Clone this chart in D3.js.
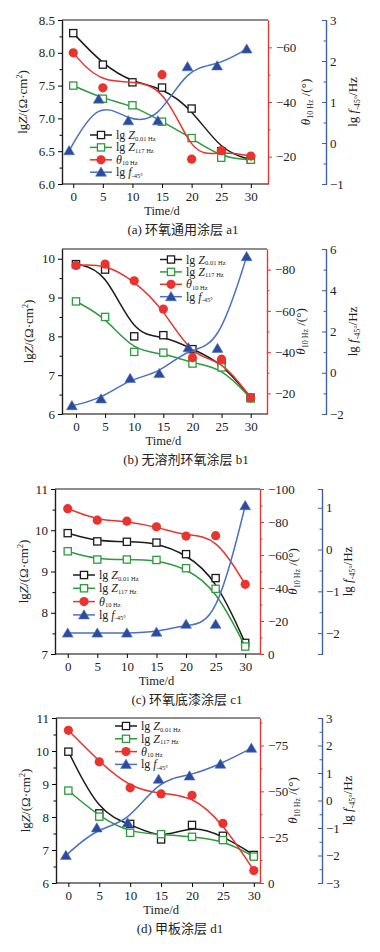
<!DOCTYPE html>
<html>
<head>
<meta charset="utf-8">
<script src="https://cdn.jsdelivr.net/npm/d3@7"></script>
<style>
  body { margin: 0; background: #fff; }
  svg { display: block; }
  text { font-family: "Liberation Serif", "Times New Roman", serif; fill: #222; }
  .cap { font-family: "Liberation Serif", "Noto Sans CJK SC", serif; }
</style>
</head>
<body>
<svg id="chart"></svg>
<script>
const days = [0, 5, 10, 15, 20, 25, 30]
const xTicks = [0, 5, 10, 15, 20, 25, 30]

// (a) 环氧通用涂层 a1
const aZ001 = [8.30, 7.82, 7.55, 7.47, 7.15, 6.50, 6.37]
const aZ117 = [7.50, 7.30, 7.20, 6.95, 6.70, 6.40, 6.37]
const aTheta = [-58, -45.2, null, -50, -19.1, -22.2, -20.2]
const aF = [-0.19, 1.07, 0.54, 0.54, 1.86, 1.88, 2.29]
const aFDays = [-0.7, 4.3, 9.3, 14.3, 19.3, 24.3, 29.3]

// (b) 无溶剂环氧涂层 b1
const bZ001 = [9.86, 9.72, 8.00, 8.03, 7.67, 7.33, 6.42]
const bZ117 = [8.90, 8.50, 7.60, 7.58, 7.30, 7.20, 6.40]
const bTheta = [-82, -82.7, -74.6, -60.9, -37.3, -36.6, -17.9]
const bF = [-1.6, -1.27, -0.28, -0.04, 1.21, 1.18, 5.63]
const bFDays = [-0.7, 4.3, 9.3, 14.3, 19.3, 24.3, 29.3]

// (c) 环氧底漆涂层 c1
const cZ001 = [9.93, 9.73, 9.72, 9.70, 9.42, 8.84, 7.27]
const cZ117 = [9.49, 9.29, 9.29, 9.28, 9.08, 8.58, 7.18]
const cTheta = [-88.1, -81.1, -80.5, -77.1, -71.5, -71.7, -42.2]
const cF = [-2.0, -2.0, -2.0, -1.98, -1.79, -1.79, 1.05]
const cFDays = [0, 5, 10, 15, 20, 25, 30]

// (d) 甲板涂层 d1
const dZ001 = [9.98, 8.11, 7.79, 7.32, 7.76, 7.43, 6.85]
const dZ117 = [8.80, 8.01, 7.52, 7.48, 7.40, 7.30, 6.80]
const dTheta = [-83.3, -66.1, -51.9, -48.6, -47.8, -32.5, -6.8]
const dF = [-2.0, -1.0, -0.82, 0.77, 0.89, 1.32, 1.9]
const dFDays = [-0.4, 4.6, 9.6, 14.6, 19.6, 24.6, 29.6]

const W = 380, H = 952
const cBlack = '#1c1c1c', cGreen = '#2f9a3e', cRed = '#e8332e', cBlue = '#4a72c0', cBlueDark = '#2c4a9e', cBlueAxis = '#3f5fa6'

const svg = d3.select('#chart').attr('width', W).attr('height', H)

function seq(a, b, s) { return d3.range(a, b + s / 2, s) }
const intFmt = d => (d < 0 ? '\u2212' : '') + Math.abs(d)

function drawPanel(p) {
  const g = svg.append('g')
  const x = d3.scaleLinear().domain(p.xDom).range([p.left, p.right])
  const y = d3.scaleLinear().domain(p.yDom).range([p.bottom, p.top])
  const yr = d3.scaleLinear().domain(p.rDom).range([p.bottom, p.top])
  const yb = d3.scaleLinear().domain(p.bDom).range([p.bottom, p.top])

  // top frame
  g.append('line').attr('x1', p.left).attr('x2', p.right).attr('y1', p.top).attr('y2', p.top)
    .attr('stroke', cBlack).attr('stroke-width', 1.2)

  // left axis
  const la = g.append('g').attr('transform', `translate(${p.left},0)`)
  la.call(d3.axisLeft(y).tickValues(p.yMinor).tickSize(2.5).tickSizeOuter(0).tickFormat(''))
  la.append('g').call(d3.axisLeft(y).tickValues(p.yTicks).tickSize(4).tickSizeOuter(0).tickPadding(3).tickFormat(d3.format(p.yFmt)))
  la.selectAll('path').attr('stroke', cBlack).attr('stroke-width', 1.2)

  // bottom axis
  const ba = g.append('g').attr('transform', `translate(0,${p.bottom})`)
    .call(d3.axisBottom(x).tickValues(xTicks).tickSize(4).tickSizeOuter(0).tickPadding(4))
  ba.select('path').attr('d', `M${p.left},0H${p.right}`).attr('stroke-width', 1.2)

  // red axis
  const ra = g.append('g').attr('transform', `translate(${p.right},0)`)
  ra.call(d3.axisRight(yr).tickValues(p.rMinor).tickSize(2.5).tickSizeOuter(0).tickFormat(''))
  ra.append('g').call(d3.axisRight(yr).tickValues(p.rTicks).tickSize(4).tickSizeOuter(0).tickPadding(4).tickFormat(intFmt))
  ra.selectAll('path').attr('stroke', cRed).attr('stroke-width', 1.2)
  ra.selectAll('line').attr('stroke', cRed)

  // blue axis
  const bl = g.append('g').attr('transform', `translate(${p.blueX},0)`)
  bl.call(d3.axisRight(yb).tickValues(p.bMinor).tickSizeInner(-2.5).tickSizeOuter(0).tickFormat(''))
  bl.append('g').call(d3.axisRight(yb).tickValues(p.bTicks).tickSizeInner(-4).tickSizeOuter(-4).tickPadding(4).tickFormat(intFmt))
  bl.selectAll('path').attr('stroke', cBlueAxis).attr('stroke-width', 1.2)
  bl.selectAll('line').attr('stroke', cBlueAxis)

  g.selectAll('.tick text').attr('font-size', 13).attr('fill', '#222')

  // series
  const line = (xs, vs, sc) => {
    const pts = xs.map((d, i) => [x(d), vs[i] == null ? null : sc(vs[i])]).filter(d => d[1] != null)
    return d3.line().curve(d3.curveBasis)(pts)
  }
  const series = [
    { xs: days, vs: p.z001, sc: y, color: cBlack, mark: 'square' },
    { xs: days, vs: p.z117, sc: y, color: cGreen, mark: 'square' },
    { xs: days, vs: p.theta, sc: yr, color: cRed, mark: 'circle' },
    { xs: p.fDays, vs: p.f, sc: yb, color: cBlue, mark: 'tri' }
  ]
  series.forEach(s => {
    g.append('path').attr('d', line(s.xs, s.vs, s.sc)).attr('fill', 'none')
      .attr('stroke', s.color).attr('stroke-width', 1.5)
    s.xs.forEach((d, i) => {
      if (s.vs[i] == null) return
      drawMark(g, s.mark, x(d), s.sc(s.vs[i]), s.color)
    })
  })

  // legend
  const lg = g.append('g').attr('transform', `translate(${p.legend[0]},${p.legend[1]})`)
  const entries = [
    { color: cBlack, mark: 'square', parts: [['lg ', false], ['Z', true], ['0.01 Hz', false, 'sub']] },
    { color: cGreen, mark: 'square', parts: [['lg ', false], ['Z', true], ['117 Hz', false, 'sub']] },
    { color: cRed, mark: 'circle', parts: [['θ', true], ['10 Hz', false, 'sub']] },
    { color: cBlue, mark: 'tri', parts: [['lg ', false], ['f', true], ['-45°', false, 'sub']] }
  ]
  entries.forEach((e, i) => {
    const yy = i * p.legendDy
    lg.append('line').attr('x1', 0).attr('x2', 22).attr('y1', yy).attr('y2', yy)
      .attr('stroke', e.color).attr('stroke-width', 1.5)
    drawMark(lg, e.mark, 11, yy, e.color)
    const t = lg.append('text').attr('x', 26).attr('y', yy + 4).attr('font-size', 12)
    richText(t, e.parts, 6.5, 1.5)
  })

  // axis labels
  const xMid = x(15)
  g.append('text').attr('x', xMid).attr('y', p.bottom + 31).attr('text-anchor', 'middle')
    .attr('font-size', 12.5).text('Time/d')
  g.append('text').attr('class', 'cap').attr('x', p.capX).attr('y', p.bottom + 50).attr('text-anchor', 'middle')
    .attr('font-size', 13).text(p.caption)

  const yMid = (p.top + p.bottom) / 2
  const ll = g.append('text').attr('transform', `translate(${p.lLabX},${yMid}) rotate(-90)`)
    .attr('text-anchor', 'middle').attr('font-size', 13)
  richText(ll, [['lg', false], ['Z', true], ['/(Ω·cm', false], ['2', false, 'sup'], [')', false]], 8, 3)

  const rl = g.append('text').attr('transform', `translate(${p.rLabX},${yMid}) rotate(-90)`)
    .attr('text-anchor', 'middle').attr('font-size', 13)
  richText(rl, [['θ', true], ['10 Hz', false, 'sub'], [' /(°)', false]], 8, 3)

  const bLab = g.append('text').attr('transform', `translate(${p.bLabX},${yMid}) rotate(-90)`)
    .attr('text-anchor', 'middle').attr('font-size', 13)
  richText(bLab, [['lg ', false], ['f', true], ['-45°', false, 'sub'], ['/Hz', false]], 8, 3)
}

function richText(t, parts, small, drop) {
  let shift = 0
  parts.forEach(([s, it, pos]) => {
    const sp = t.append('tspan').text(s)
    if (it) sp.attr('font-style', 'italic')
    let target = 0
    if (pos === 'sub') { sp.attr('font-size', small); target = drop }
    if (pos === 'sup') { sp.attr('font-size', small); target = -5 }
    if (target !== shift) { sp.attr('dy', target - shift); shift = target }
  })
}

function drawMark(g, type, cx, cy, color) {
  if (type === 'square') {
    g.append('rect').attr('x', cx - 3.6).attr('y', cy - 3.6).attr('width', 7.2).attr('height', 7.2)
      .attr('fill', '#fff').attr('stroke', color).attr('stroke-width', 1.3)
  } else if (type === 'circle') {
    g.append('circle').attr('cx', cx).attr('cy', cy).attr('r', 4.6).attr('fill', color)
  } else {
    g.append('path').attr('d', `M${cx},${cy - 5.2}L${cx + 5.4},${cy + 4}L${cx - 5.4},${cy + 4}Z`)
      .attr('fill', cBlueDark).attr('stroke', cBlue).attr('stroke-width', 0.6)
  }
}

drawPanel({
  left: 62, right: 268, top: 20, bottom: 184, blueX: 326,
  xDom: [-1.9, 32.9], yDom: [6, 8.5], rDom: [-10, -70], bDom: [-1, 3],
  yTicks: seq(6, 8.5, 0.5), yMinor: seq(6.25, 8.25, 0.5), yFmt: '.1f',
  rTicks: [-20, -40, -60], rMinor: [-30, -50],
  bTicks: seq(-1, 3, 1), bMinor: seq(-0.5, 2.5, 1),
  z001: aZ001, z117: aZ117, theta: aTheta, f: aF, fDays: aFDays,
  legend: [90, 135], legendDy: 12.4,
  lLabX: 27, rLabX: 310, bLabX: 357, capX: 183, caption: '(a) 环氧通用涂层 a1'
})

drawPanel({
  left: 62, right: 267, top: 249, bottom: 414, blueX: 326,
  xDom: [-2.4, 32.8], yDom: [6, 10.25], rDom: [-10, -90], bDom: [-2, 6],
  yTicks: seq(6, 10, 1), yMinor: seq(6.5, 9.5, 1), yFmt: 'd',
  rTicks: [-20, -40, -60, -80], rMinor: [-30, -50, -70],
  bTicks: seq(-2, 6, 2), bMinor: seq(-1, 5, 2),
  z001: bZ001, z117: bZ117, theta: bTheta, f: bF, fDays: bFDays,
  legend: [160, 259.5], legendDy: 12.4,
  lLabX: 33, rLabX: 305, bLabX: 357, capX: 186, caption: '(b) 无溶剂环氧涂层 b1'
})

drawPanel({
  left: 55, right: 260, top: 489, bottom: 654, blueX: 322,
  xDom: [-2.15, 32.5], yDom: [7, 11], rDom: [0, -100], bDom: [-2.5, 1.45],
  yTicks: seq(7, 11, 1), yMinor: seq(7.5, 10.5, 1), yFmt: 'd',
  rTicks: seq(-100, 0, 20), rMinor: seq(-90, -10, 20),
  bTicks: seq(-2, 1, 1), bMinor: seq(-1.5, 0.5, 1),
  z001: cZ001, z117: cZ117, theta: cTheta, f: cF, fDays: cFDays,
  legend: [73, 575], legendDy: 13.3,
  lLabX: 28, rLabX: 297, bLabX: 352, capX: 187, caption: '(c) 环氧底漆涂层 c1'
})

drawPanel({
  left: 56, right: 260, top: 718, bottom: 883, blueX: 322,
  xDom: [-2, 31], yDom: [6, 11], rDom: [0, -90], bDom: [-3, 3],
  yTicks: seq(6, 11, 1), yMinor: seq(6.5, 10.5, 1), yFmt: 'd',
  rTicks: [0, -25, -50, -75], rMinor: [-12.5, -37.5, -62.5, -87.5],
  bTicks: seq(-3, 3, 1), bMinor: seq(-2.5, 2.5, 1),
  z001: dZ001, z117: dZ117, theta: dTheta, f: dF, fDays: dFDays,
  legend: [115, 726], legendDy: 12.8,
  lLabX: 30, rLabX: 297, bLabX: 352, capX: 180, caption: '(d) 甲板涂层 d1'
})
</script>
</body>
</html>
